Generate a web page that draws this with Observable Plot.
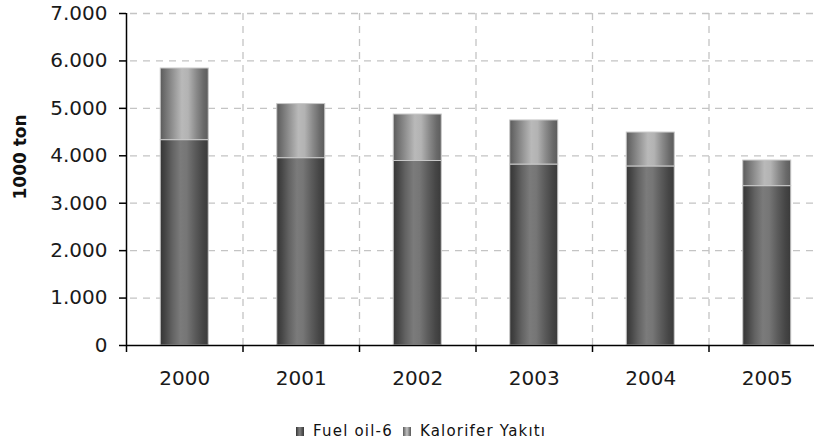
<!DOCTYPE html>
<html>
<head>
<meta charset="utf-8">
<script src="https://cdn.jsdelivr.net/npm/d3@7"></script>
<script src="https://cdn.jsdelivr.net/npm/@observablehq/plot@0.6"></script>
<style>
  html, body { margin: 0; padding: 0; background: #fff; }
  #chart { position: relative; width: 814px; height: 445px; overflow: hidden; font-family: "DejaVu Sans", sans-serif; }
  #legend { position: absolute; left: 296px; top: 423px; display: flex; align-items: center; font-size: 15px; line-height: 17px; letter-spacing: 1.2px; color: #111; white-space: nowrap; }
  #legend .sw { display: inline-block; width: 8px; height: 9px; margin-right: 9px; }
  #legend .item { display: flex; align-items: center; margin-right: 10px; }
</style>
</head>
<body>
<div id="chart"></div>
<script>
// ---- data ----
const years = [2000, 2001, 2002, 2003, 2004, 2005];
const fuelOil6 = [4330, 3950, 3890, 3815, 3775, 3360];
const kaloriferYakiti = [1510, 1140, 980, 930, 715, 540];
const seriesNames = ["Fuel oil-6", "Kalorifer Yakıtı"];
const yTicks = [0, 1000, 2000, 3000, 4000, 5000, 6000, 7000];
const yTitle = "1000 ton";

// ---- build table ----
const data = years.flatMap((year, i) => [
  {year, series: seriesNames[0], value: fuelOil6[i]},
  {year, series: seriesNames[1], value: kaloriferYakiti[i]}
]);
const bounds = years.map(y => y - 0.5);          // category boundaries
const innerBounds = bounds.slice(1);
const half = 0.206;                                // half bar width (in category units)
const fmt = d => d3.format(",")(d).replace(/,/g, ".");

const gradients = {
  fuel: [[0, "#353535"], [0.1, "#454545"], [0.25, "#626262"], [0.42, "#7b7b7b"], [0.55, "#767676"], [0.72, "#5c5c5c"], [0.88, "#464646"], [1, "#3a3a3a"]],
  kal:  [[0, "#5a5a5a"], [0.08, "#6c6c6c"], [0.3, "#9a9a9a"], [0.45, "#b9b9b9"], [0.58, "#b3b3b3"], [0.75, "#8a8a8a"], [0.9, "#6a6a6a"], [1, "#5c5c5c"]]
};

const gridColor = "#c4c4c4";
const chart = Plot.plot({
  width: 814,
  height: 400,
  marginLeft: 126,
  marginRight: -11,
  marginTop: 13,
  marginBottom: 55,
  style: {fontFamily: "DejaVu Sans, sans-serif", fontSize: "20px", color: "#000", background: "#fff", overflow: "visible"},
  x: {type: "linear", domain: [years[0] - 0.5, years[years.length - 1] + 0.5]},
  y: {domain: [yTicks[0], yTicks[yTicks.length - 1]]},
  color: {domain: seriesNames, range: ["url(#gFuel)", "url(#gKal)"]},
  marks: [
    Plot.ruleY(yTicks.slice(1), {stroke: gridColor, strokeWidth: 1.3, strokeDasharray: "7,6", strokeDashoffset: -4}),
    Plot.ruleX(innerBounds, {y1: yTicks[0], y2: yTicks[yTicks.length - 1], stroke: gridColor, strokeWidth: 1.3, strokeDasharray: "7,6"}),
    Plot.rectY(data, {x1: d => d.year - half, x2: d => d.year + half, y: "value", fill: "series", stroke: "#c8c8c8", strokeWidth: 1}),
    Plot.ruleX([bounds[0]], {y1: yTicks[0], y2: yTicks[yTicks.length - 1], stroke: "#000", strokeWidth: 1.5}),
    Plot.ruleY([0], {stroke: "#000", strokeWidth: 1.5}),
    Plot.axisY({ticks: yTicks, tickSize: 7, tickPadding: 12, tickFormat: fmt, fontSize: 20, fill: "#1a1a1a", strokeWidth: 1.5, label: null}),
    Plot.axisX({ticks: bounds, tickSize: 7, tickFormat: () => "", strokeWidth: 1.5, label: null}),
    Plot.axisX({ticks: years, tickSize: 0, tickPadding: 25, tickFormat: d => String(d), fontSize: 20, fill: "#1a1a1a", label: null}),
    Plot.text([yTitle], {frameAnchor: "left", dx: -106, dy: 20, rotate: -90, fontWeight: "bold", fontSize: 17, fill: "#111"})
  ]
});

// gradient definitions
const defs = d3.select(chart).insert("defs", ":first-child");
for (const [id, stops] of [["gFuel", gradients.fuel], ["gKal", gradients.kal]]) {
  const g = defs.append("linearGradient").attr("id", id).attr("x1", "0").attr("x2", "1").attr("y1", "0").attr("y2", "0");
  for (const [o, c] of stops) g.append("stop").attr("offset", o).attr("stop-color", c);
}

const root = document.getElementById("chart");
root.appendChild(chart);

// legend below the plot
const legend = document.createElement("div");
legend.id = "legend";
const cssGrad = stops => "linear-gradient(to right," + stops.map(([o, c]) => `${c} ${o * 100}%`).join(",") + ")";
[[seriesNames[0], gradients.fuel], [seriesNames[1], gradients.kal]].forEach(([name, stops]) => {
  const item = document.createElement("span");
  item.className = "item";
  const sw = document.createElement("span");
  sw.className = "sw";
  sw.style.background = cssGrad(stops);
  const t = document.createElement("span");
  t.textContent = name;
  item.appendChild(sw);
  item.appendChild(t);
  legend.appendChild(item);
});
root.appendChild(legend);
</script>
</body>
</html>
